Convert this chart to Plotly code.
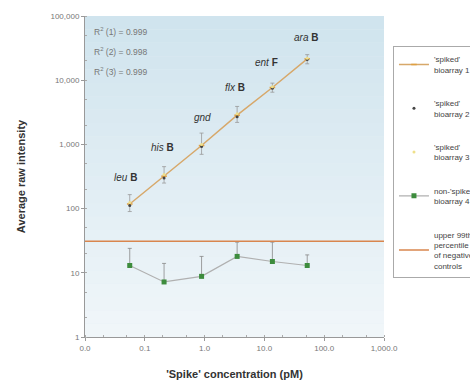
import math
import plotly.graph_objects as go

genes = ["<i>leu</i> <b>B</b>", "<i>his</i> <b>B</b>", "<i>gnd</i>", "<i>flx</i> <b>B</b>", "<i>ent</i> <b>F</b>", "<i>ara</i> <b>B</b>"]
conc = [0.056, 0.21, 0.89, 3.5, 13.6, 52]
spiked1 = [118, 320, 960, 2850, 7700, 21500]
spiked1_hi = [165, 450, 1500, 3900, 9000, 25000]
spiked1_lo = [90, 250, 700, 2200, 6500, 18000]
spiked2 = [112, 300, 930, 2700, 7500, 21000]
spiked3 = [125, 340, 1000, 3000, 7900, 22000]
nonspiked = [13, 7.2, 8.8, 18, 15, 13]
nonspiked_hi = [24, 14, 18, 30, 30, 19]
threshold = 31
r2 = ["R<sup>2</sup> (1) = 0.999", "R<sup>2</sup> (2) = 0.998", "R<sup>2</sup> (3) = 0.999"]
label_xy = [(0.047, 300), (0.2, 900), (0.93, 2600), (3.2, 7600), (11, 19000), (50, 47000)]

xt_vals = [0.01, 0.1, 1, 10, 100, 1000]
xt_text = ["0.0", "0.1", "1.0", "10.0", "100.0", "1,000.0"]
yt_vals = [1, 10, 100, 1000, 10000, 100000]
yt_text = ["1", "10", "100", "1,000", "10,000", "100,000"]

fig = go.Figure()
fig.add_trace(go.Scatter(
    x=conc, y=spiked1, mode="lines+markers", name="'spiked'<br>bioarray 1",
    line=dict(color="#d7a86a", width=1.5),
    marker=dict(color="#e0a040", size=4, symbol="line-ew-open", line=dict(width=1.5, color="#e0a040")),
    error_y=dict(type="data", symmetric=False,
                 array=[h - v for h, v in zip(spiked1_hi, spiked1)],
                 arrayminus=[v - l for v, l in zip(spiked1, spiked1_lo)],
                 color="#999999", thickness=0.8, width=2),
    legendgroup="a"))
fig.add_trace(go.Scatter(
    x=conc, y=spiked2, mode="markers", name="'spiked'<br>bioarray 2",
    marker=dict(color="#444444", size=3, symbol="circle"),
    legendgroup="b"))
fig.add_trace(go.Scatter(
    x=conc, y=spiked3, mode="markers", name="'spiked'<br>bioarray 3",
    marker=dict(color="#efe08a", size=3, symbol="circle"),
    legendgroup="c"))
fig.add_trace(go.Scatter(
    x=conc, y=nonspiked, mode="lines+markers", name="non-'spiked'<br>bioarray 4",
    line=dict(color="#b0b0b0", width=1.2),
    marker=dict(color="#3d8c3d", size=5, symbol="square"),
    error_y=dict(type="data", symmetric=False,
                 array=[h - v for h, v in zip(nonspiked_hi, nonspiked)],
                 arrayminus=[0] * len(nonspiked),
                 color="#888888", thickness=0.8, width=2),
    legendgroup="d"))
fig.add_trace(go.Scatter(
    x=[0.01, 1000], y=[threshold, threshold], mode="lines",
    name="upper 99th<br>percentile<br>of negative<br>controls",
    line=dict(color="#d9864e", width=1.3),
    legendgroup="e"))

for (lx, ly), g in zip(label_xy, genes):
    fig.add_annotation(x=math.log10(lx), y=math.log10(ly), xref="x", yref="y", text=g,
                       showarrow=False, font=dict(size=10, color="#333333"), xanchor="center")

for i, t in enumerate(r2):
    fig.add_annotation(x=0.025, y=1 - 0.048 - i * 0.062, xref="paper", yref="paper",
                       text=t, showarrow=False, xanchor="left", yanchor="middle",
                       font=dict(size=8.5, color="#777777"))

# soft vertical gradient background
n = 24
top = (208, 228, 238)
bot = (240, 246, 249)
for i in range(n):
    f = i / (n - 1)
    c = tuple(round(top[k] + (bot[k] - top[k]) * f) for k in range(3))
    fig.add_shape(type="rect", xref="paper", yref="paper", x0=0, x1=1,
                  y0=1 - (i + 1) / n, y1=1 - i / n, layer="below",
                  fillcolor="rgb(%d,%d,%d)" % c, line=dict(width=0))

fig.update_layout(
    width=470, height=384,
    margin=dict(l=85, r=86, t=16, b=47, autoexpand=False),
    paper_bgcolor="white",
    plot_bgcolor="#e2eef4",
    font=dict(family="Liberation Sans, Arial, sans-serif", color="#555555"),
    showlegend=True,
    legend=dict(x=1.03, y=0.905, xanchor="left", yanchor="top",
                bgcolor="white", bordercolor="#aaaaaa", borderwidth=1,
                font=dict(size=8, color="#444444"),
                tracegroupgap=20, itemwidth=30, traceorder="grouped"),
)
fig.update_xaxes(type="log", range=[-2, 3], tickvals=xt_vals, ticktext=xt_text,
                 showgrid=False, zeroline=False, showline=True, linecolor="#999999",
                 ticks="outside", ticklen=3, tickcolor="#999999",
                 minor=dict(ticks="inside", ticklen=2, tickcolor="#aaaaaa", showgrid=False),
                 tickfont=dict(size=8, color="#777777"),
                 title=dict(text="<b>'Spike' concentration (pM)</b>", font=dict(size=11, color="#333333"), standoff=18),
                 mirror=False)
fig.update_yaxes(type="log", range=[0, 5], tickvals=yt_vals, ticktext=yt_text,
                 showgrid=False, zeroline=False, showline=True, linecolor="#999999",
                 ticks="outside", ticklen=3, tickcolor="#999999",
                 minor=dict(ticks="inside", ticklen=2, tickcolor="#aaaaaa", showgrid=False),
                 tickfont=dict(size=8, color="#777777"),
                 title=dict(text="<b>Average raw intensity</b>", font=dict(size=11, color="#333333"), standoff=22))

fig.write_html("out.html")
